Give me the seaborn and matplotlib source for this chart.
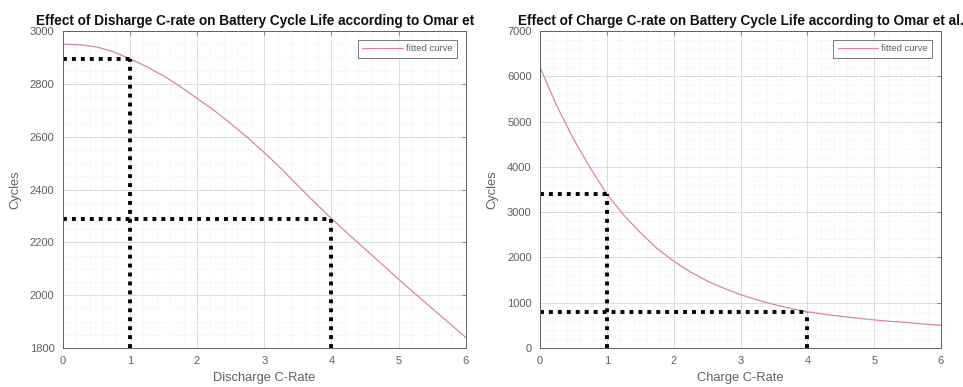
import matplotlib
matplotlib.use("Agg")
import matplotlib.pyplot as plt
from matplotlib.ticker import MultipleLocator
from matplotlib.transforms import Bbox
import seaborn as sns
import pandas as pd

# Discharge C-rate vs cycle life (fitted curve)
discharge_rate = [0, 0.25, 0.5, 0.75, 1, 1.25, 1.5, 1.75, 2, 2.25, 2.5, 2.75, 3,
                  3.25, 3.5, 3.75, 4, 4.25, 4.5, 4.75, 5, 5.25, 5.5, 5.75, 6]
discharge_cycles = [2950, 2948, 2940, 2922, 2895, 2865, 2830, 2790, 2745, 2700,
                    2650, 2597, 2540, 2480, 2415, 2352, 2290, 2232, 2175, 2118,
                    2060, 2005, 1950, 1895, 1840]

# Charge C-rate vs cycle life (fitted curve)
charge_rate = [0, 0.25, 0.5, 0.75, 1, 1.25, 1.5, 1.75, 2, 2.25, 2.5, 2.75, 3,
               3.25, 3.5, 3.75, 4, 4.25, 4.5, 4.75, 5, 5.25, 5.5, 5.75, 6]
charge_cycles = [6200, 5350, 4620, 3980, 3400, 2940, 2550, 2200, 1920, 1680,
                 1480, 1320, 1180, 1060, 960, 875, 800, 745, 700, 658,
                 620, 588, 560, 528, 500]

# C-rates highlighted with dotted guide lines
guide_rates = [1, 4]

titles = ["Effect of Disharge C-rate on Battery Cycle Life according to Omar et al.",
          "Effect of Charge C-rate on Battery Cycle Life according to Omar et al."]
xlabels = ["Discharge C-Rate", "Charge C-Rate"]
ylims = [(1800, 3000), (0, 7000)]
ymajor = [200, 1000]
yminor = [50, 200]

sns.set_theme(style="white")
plt.rcParams["font.family"] = ["Liberation Sans", "DejaVu Sans"]

W, H = 963, 387
fig = plt.figure(figsize=(W / 100, H / 100), dpi=100)
axes = [fig.add_axes([62.7 / W, 1 - 348 / H, 403 / W, 317 / H]),
        fig.add_axes([540 / W, 1 - 348 / H, 401 / W, 317 / H])]

curve_color = "#d98893"
text_gray = "#606060"

datasets = [(discharge_rate, discharge_cycles), (charge_rate, charge_cycles)]

for i, (ax, (xs, ys)) in enumerate(zip(axes, datasets)):
    df = pd.DataFrame({"rate": xs, "cycles": ys})
    sns.lineplot(data=df, x="rate", y="cycles", ax=ax, color=curve_color,
                 linewidth=0.9, label="fitted curve")

    y0 = ylims[i][0]
    for r in guide_rates:
        yv = ys[xs.index(r)]
        ax.plot([0, r], [yv, yv], color="black", linewidth=2.8,
                linestyle=(0, (1, 1.3)), dash_capstyle="butt")
        ax.plot([r, r], [y0, yv], color="black", linewidth=2.8,
                linestyle=(0, (1, 1.3)), dash_capstyle="butt")

    ax.set_xlim(0, 6)
    ax.set_ylim(*ylims[i])
    ax.xaxis.set_major_locator(MultipleLocator(1))
    ax.xaxis.set_minor_locator(MultipleLocator(0.2))
    ax.yaxis.set_major_locator(MultipleLocator(ymajor[i]))
    ax.yaxis.set_minor_locator(MultipleLocator(yminor[i]))

    ax.grid(which="major", color="#d6d6d6", linewidth=0.6)
    ax.grid(which="minor", color="#e6e6e6", linewidth=0.5, linestyle=":")
    ax.set_axisbelow(True)

    for sp in ax.spines.values():
        sp.set_color("#606060")
        sp.set_linewidth(0.7)

    ax.tick_params(which="major", direction="in", length=3, width=0.5,
                   colors="#606060", labelcolor=text_gray, labelsize=8,
                   top=True, right=True, pad=6)
    ax.tick_params(which="minor", length=0)

    ax.set_xlabel(xlabels[i], fontsize=9.3, color=text_gray, labelpad=4)
    ax.set_ylabel("Cycles", fontsize=9.3, color=text_gray, labelpad=6)

    ax.set_title(titles[i], fontsize=9.8, fontweight="bold", color="#111111", pad=4)

    leg = ax.legend(loc="upper right", fontsize=6.8, frameon=True, fancybox=False,
                    handlelength=4.3, borderaxespad=0.9, borderpad=0.5,
                    handletextpad=0.3)
    leg.get_frame().set_edgecolor("#404040")
    leg.get_frame().set_linewidth(0.6)
    for txt in leg.get_texts():
        txt.set_color(text_gray)

# the first title runs past the left panel and is cut off at its edge
axes[0].title.set_clip_box(Bbox.from_extents(0, 0, 478, H))
axes[0].title.set_clip_on(True)

fig.savefig("out.png", dpi=100, facecolor="white")
